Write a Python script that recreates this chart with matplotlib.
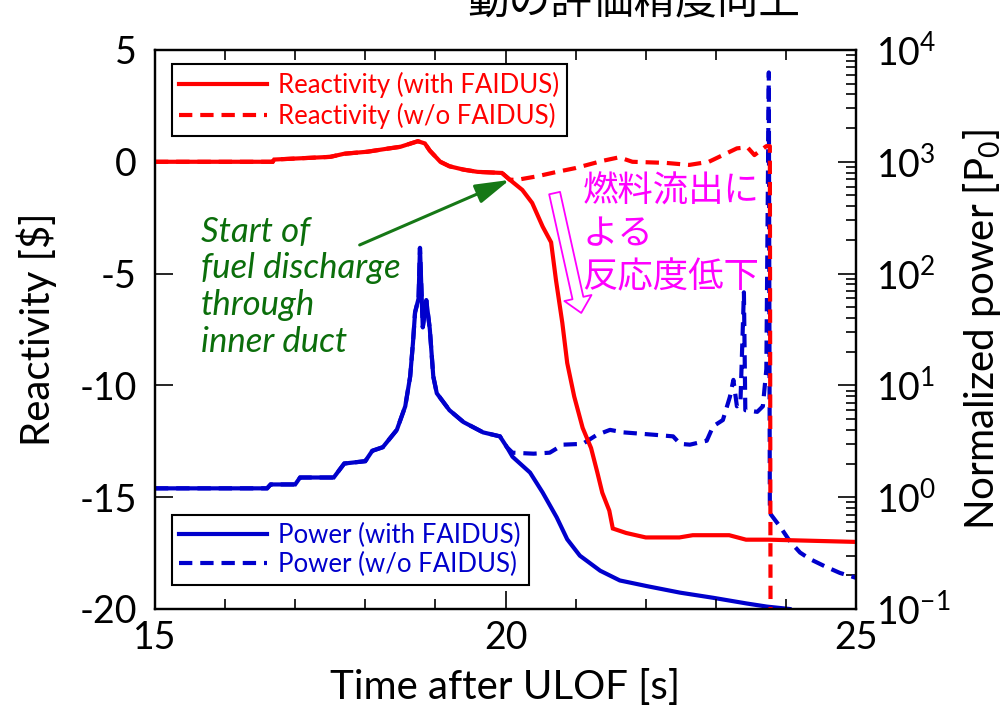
import matplotlib
matplotlib.use('Agg')
import matplotlib.pyplot as plt
from matplotlib.ticker import MultipleLocator, FixedLocator, LogLocator, NullFormatter, LogFormatterMathtext

plt.rcParams['font.family'] = ['Lato', 'Noto Sans CJK JP', 'DejaVu Sans']
plt.rcParams['mathtext.fontset'] = 'custom'
plt.rcParams['mathtext.rm'] = 'Lato'
plt.rcParams['mathtext.it'] = 'Lato:italic'
plt.rcParams['mathtext.default'] = 'regular'

# ---------------- data ----------------
t_rho_with = [15.0, 16.68, 16.7, 17.5, 17.7, 18.03, 18.3, 18.5, 18.68, 18.75, 18.85,
              18.92, 19.07, 19.2, 19.4, 19.6, 19.95, 20.06, 20.24, 20.38, 20.53, 20.65,
              20.72, 20.81, 20.88, 20.98, 21.1, 21.22, 21.31, 21.38, 21.48, 21.53, 21.72,
              22.0, 22.48, 22.67, 23.19, 23.43, 23.76, 25.0]
rho_with = [0.0, 0.0, 0.1, 0.22, 0.36, 0.45, 0.58, 0.67, 0.85, 0.92, 0.82,
            0.5, 0.0, -0.2, -0.35, -0.45, -0.5, -0.8, -1.26, -1.84, -2.9, -3.6,
            -5.3, -7.2, -9.0, -10.5, -11.9, -12.8, -13.9, -14.8, -15.6, -16.4, -16.6,
            -16.8, -16.8, -16.7, -16.7, -16.9, -16.9, -17.0]

t_rho_wo = [15.0, 16.68, 16.7, 17.5, 17.7, 18.03, 18.3, 18.5, 18.68, 18.75, 18.85,
            18.92, 19.07, 19.2, 19.4, 19.6, 19.95, 20.06, 20.16, 20.45, 20.72, 21.0,
            21.38, 21.62, 21.81, 22.29, 22.62, 22.9, 23.1, 23.3, 23.45, 23.55, 23.72,
            23.77, 23.78]
rho_wo = [0.0, 0.0, 0.1, 0.22, 0.36, 0.45, 0.58, 0.67, 0.85, 0.92, 0.82,
          0.5, 0.0, -0.2, -0.35, -0.45, -0.5, -0.8, -0.81, -0.65, -0.46, -0.28,
          0.04, 0.2, 0.0, -0.05, -0.14, 0.0, 0.3, 0.6, 0.65, 0.3, 0.7,
          0.7, -21.0]

t_pow_with = [15.0, 16.6, 16.65, 17.0, 17.07, 17.55, 17.7, 18.0, 18.1, 18.25, 18.45,
              18.57, 18.64, 18.68, 18.71, 18.76, 18.78, 18.82, 18.87, 18.92, 18.97,
              19.02, 19.2, 19.4, 19.68, 19.92, 20.02, 20.1, 20.35, 20.53, 20.73, 20.88,
              21.06, 21.35, 21.63, 22.02, 22.49, 22.96, 23.44, 23.73, 24.05]
pow_with = [1.2, 1.2, 1.3, 1.3, 1.5, 1.5, 2.0, 2.1, 2.6, 2.8, 4.0,
            6.5, 12.0, 24.0, 45.0, 60.0, 170.0, 33.0, 58.0, 32.0, 12.0,
            8.5, 6.0, 4.7, 3.8, 3.5, 2.8, 2.3, 1.66, 1.1, 0.66, 0.42,
            0.30, 0.22, 0.18, 0.16, 0.14, 0.126, 0.112, 0.105, 0.1]

t_pow_wo = [15.0, 16.6, 16.65, 17.0, 17.07, 17.55, 17.7, 18.0, 18.1, 18.25, 18.45,
            18.57, 18.64, 18.68, 18.71, 18.76, 18.78, 18.82, 18.87, 18.92, 18.97,
            19.02, 19.2, 19.4, 19.68, 19.92, 20.02, 20.1, 20.4, 20.63, 20.82, 21.1,
            21.3, 21.49, 21.68, 21.92, 22.16, 22.39, 22.49, 22.63, 22.87, 22.96, 23.1,
            23.2, 23.25, 23.3, 23.35, 23.4, 23.42, 23.59, 23.67, 23.72, 23.755, 23.77,
            23.92, 24.06, 24.2, 24.34, 24.56, 24.77, 25.0]
pow_wo = [1.2, 1.2, 1.3, 1.3, 1.5, 1.5, 2.0, 2.1, 2.6, 2.8, 4.0,
          6.5, 12.0, 24.0, 45.0, 60.0, 170.0, 33.0, 58.0, 32.0, 12.0,
          8.5, 6.0, 4.7, 3.8, 3.5, 2.8, 2.5, 2.45, 2.5, 2.95, 3.0,
          3.6, 4.0, 3.8, 3.7, 3.6, 3.5, 3.0, 2.95, 3.2, 4.3, 4.9,
          7.9, 11.2, 6.5, 6.9, 68.0, 6.0, 5.8, 6.5, 14.0, 6300.0, 0.72,
          0.54, 0.40, 0.32, 0.28, 0.24, 0.21, 0.19]

x_ticks = [15, 20, 25]
rho_ticks = [5, 0, -5, -10, -15, -20]

RED = '#FF0000'
BLUE = '#0000CC'
GREEN = '#0B6E0B'
MAGENTA = '#FF00FF'

# ---------------- figure ----------------
fig = plt.figure(figsize=(10.06, 7.06), dpi=100)
ax = fig.add_axes([0.154, 0.1374, 0.697, 0.7918])
ax2 = ax.twinx()
ax.set_zorder(ax2.get_zorder() + 1)
ax.patch.set_visible(False)

lw = 3.0
dash = (3.2, 1.9)
l_pw, = ax2.plot(t_pow_with, pow_with, color=BLUE, lw=lw, solid_joinstyle='miter')
l_pwo, = ax2.plot(t_pow_wo, pow_wo, color=BLUE, lw=lw, ls=(0, dash))
l_rw, = ax.plot(t_rho_with, rho_with, color=RED, lw=lw, solid_joinstyle='miter')
l_rwo, = ax.plot(t_rho_wo, rho_wo, color=RED, lw=lw, ls=(0, dash))

ax.set_xlim(15, 25)
ax.set_ylim(-20, 5)
ax2.set_yscale('log')
ax2.set_ylim(0.1, 1e4)

ax.xaxis.set_major_locator(FixedLocator(x_ticks))
ax.xaxis.set_minor_locator(MultipleLocator(1))
ax.yaxis.set_major_locator(FixedLocator(rho_ticks))
ax.set_yticklabels([str(v) for v in rho_ticks])
ax2.yaxis.set_major_locator(LogLocator(base=10, numticks=10))
ax2.yaxis.set_minor_locator(LogLocator(base=10, subs=range(2, 10), numticks=20))
ax2.yaxis.set_minor_formatter(NullFormatter())
ax2.yaxis.set_major_formatter(LogFormatterMathtext())

ax.tick_params(axis='x', which='major', direction='in', top=True, length=13, width=1.2,
               labelsize=27, pad=8)
ax.tick_params(axis='x', which='minor', direction='in', top=True, length=7.5, width=1.2)
ax.tick_params(axis='y', which='major', direction='in', right=False, length=13, width=1.2,
               labelsize=27, pad=13)
ax2.tick_params(axis='y', which='major', direction='in', length=13, width=1.2,
                labelsize=27, pad=14)
ax2.tick_params(axis='y', which='minor', direction='in', length=7.5, width=1.2)
for a in (ax, ax2):
    for s in a.spines.values():
        s.set_linewidth(1.6)

ax.set_xlabel('Time after ULOF [s]', fontsize=29, labelpad=9)
ax.set_ylabel('Reactivity [$]', fontsize=29, labelpad=16)
ax2.set_ylabel('Normalized power [P$_0$]', fontsize=29, labelpad=8)

# legends
leg1 = ax.legend([l_rw, l_rwo], ['Reactivity (with FAIDUS)', 'Reactivity (w/o FAIDUS)'],
                 loc='upper left', bbox_to_anchor=(0.024, 0.975), borderaxespad=0,
                 fontsize=18.5, handlelength=3.4, handletextpad=0.45, labelspacing=0.18,
                 borderpad=0.3, fancybox=False, edgecolor='black', framealpha=1,
                 labelcolor=RED)
leg1.get_frame().set_linewidth(1.5)
ax.add_artist(leg1)
leg2 = ax.legend([l_pw, l_pwo], ['Power (with FAIDUS)', 'Power (w/o FAIDUS)'],
                 loc='lower left', bbox_to_anchor=(0.024, 0.043), borderaxespad=0,
                 fontsize=18.5, handlelength=3.4, handletextpad=0.45, labelspacing=0.18,
                 borderpad=0.3, fancybox=False, edgecolor='black', framealpha=1,
                 labelcolor=BLUE)
leg2.get_frame().set_linewidth(1.5)

# annotations
ax.text(15.66, -8.5, 'Start of\nfuel discharge\nthrough\ninner duct', color=GREEN,
        fontsize=25, style='italic', va='baseline', ha='left', linespacing=1.18)
ax.annotate('', xy=(20.06, -0.81), xytext=(17.92, -3.72),
            arrowprops=dict(arrowstyle='-|>,head_length=0.7,head_width=0.2',
                            color='#167816', lw=2.2, mutation_scale=30,
                            shrinkA=0, shrinkB=0))
ax.text(21.1, -5.6, '燃料流出に\nよる\n反応度低下', color=MAGENTA, fontsize=25.5,
        va='baseline', ha='left', linespacing=1.24,
        family=['Noto Sans CJK JP', 'DejaVu Sans'])
ax.annotate('', xy=(21.08, -6.76), xytext=(20.7, -1.4),
            arrowprops=dict(arrowstyle='simple,head_length=1.1,head_width=2.0,tail_width=0.8',
                            fc='white', ec=MAGENTA, lw=1.3, mutation_scale=10,
                            shrinkA=0, shrinkB=0))

fig.text(0.630, 1 - 13 / 706, '動の評価精度向上', fontsize=30, ha='center', va='baseline',
         family=['Noto Sans CJK JP', 'DejaVu Sans'])

fig.savefig('out.png', dpi=100)
